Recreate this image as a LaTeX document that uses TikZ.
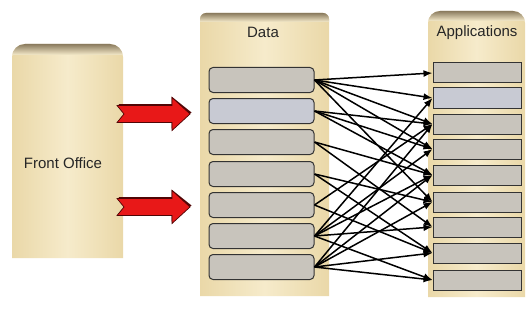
\documentclass[tikz,border=0pt]{standalone}
\usepackage{fontspec}
\setmainfont{Liberation Sans}
\usetikzlibrary{arrows.meta}

\definecolor{panelFill}{HTML}{F6EBCB}
\definecolor{panelEdge}{HTML}{EAD8A8}
\definecolor{bevelDark}{HTML}{8A7B5E}
\definecolor{boxGray}{HTML}{C8C4BC}
\definecolor{boxBlue}{HTML}{C8CAD3}
\definecolor{boxLine}{HTML}{333333}
\definecolor{arrowRed}{HTML}{E81818}
\definecolor{arrowEdge}{HTML}{500505}

\tikzset{
  panelbody/.style={left color=panelEdge, right color=panelEdge, middle color=panelFill},
  databox/.style={draw=boxLine, fill=boxGray, line width=1pt, rounded corners=4pt,
    minimum width=105pt, minimum height=25pt, inner sep=0pt},
  appbox/.style={draw=boxLine, fill=boxGray, line width=1pt,
    minimum width=88pt, minimum height=20pt, inner sep=0pt},
  title/.style={font=\fontsize{15}{17}\selectfont, text=black!85, inner sep=0pt},
  conn/.style={draw=black, line width=1.5pt, -{Latex[length=9pt,width=7pt]}},
  redarrow/.pic={
    % dark drop shadow, then the red block arrow with a notched tail
    \fill[arrowEdge] (1.5,-10) -- (54.5,-10) -- (54.5,-17.5) -- (74.5,-1.5) -- (54.5,14.5)
      -- (54.5,7) -- (1.5,7) -- (8.5,-1.5) -- cycle;
    \draw[fill=arrowRed, draw=arrowEdge, line width=0.7pt]
      (0,-8.5) -- (55,-8.5) -- (55,-16.5) -- (73,0) -- (55,16.5) -- (55,8.5)
      -- (0,8.5) -- (7,0) -- cycle;
  }
}

\begin{document}
\begin{tikzpicture}[x=1pt,y=-1pt]
\useasboundingbox (0,0) rectangle (526,326);
\fill[white] (0,0) rectangle (526,326);

% ---- Front Office panel ----
\begin{scope}
  \clip (12,258) {[rounded corners=13pt] -- (12,44) -- (123,44)} -- (123,258) -- cycle;
  \shade[panelbody] (12,44) rectangle (123,258);
  \shade[top color=bevelDark, bottom color=panelFill] (12,44) rectangle (123,55);
\end{scope}
\node[title] (fo) at (63,163) {Front Office};

% ---- Data panel ----
\begin{scope}
  \clip (200,296) {[rounded corners=6pt] -- (200,13) -- (329,13)} -- (329,296) -- cycle;
  \shade[panelbody] (200,13) rectangle (329,296);
  \shade[top color=bevelDark, bottom color=panelFill] (200,13) rectangle (329,22);
\end{scope}
\node[title] (datat) at (263,32) {Data};

% ---- Applications panel ----
\begin{scope}
  \clip (428,297) {[rounded corners=12pt] -- (428,11) -- (525,11)} -- (525,297) -- cycle;
  \shade[panelbody] (428,11) rectangle (525,297);
  \shade[top color=bevelDark, bottom color=panelFill] (428,11) rectangle (525,21);
\end{scope}
\node[title] (appt) at (477,33) {Applications};

% ---- red block arrows: Front Office -> Data ----
\coordinate (fa1) at (117,114);
\coordinate (fa2) at (117,207);
\pic at (fa1) {redarrow};
\pic at (fa2) {redarrow};

% ---- data stores ----
\node[databox] (d1) at (261.5,80) {};
\node[databox, fill=boxBlue] (d2) at (261.5,111) {};
\node[databox] (d3) at (261.5,142) {};
\node[databox] (d4) at (261.5,174) {};
\node[databox] (d5) at (261.5,205) {};
\node[databox] (d6) at (261.5,236) {};
\node[databox] (d7) at (261.5,267) {};

% ---- applications ----
\node[appbox] (a1) at (477,73) {};
\node[appbox, fill=boxBlue] (a2) at (477,98) {};
\node[appbox] (a3) at (477,124) {};
\node[appbox] (a4) at (477,149) {};
\node[appbox] (a5) at (477,175) {};
\node[appbox] (a6) at (477,202) {};
\node[appbox] (a7) at (477,227) {};
\node[appbox] (a8) at (477,253) {};
\node[appbox] (a9) at (477,280) {};

% ---- data feeds into applications ----
\foreach \s/\t in {d1/a1, d1/a2, d1/a3, d1/a4, d1/a6,
                   d2/a3, d2/a4, d2/a5,
                   d3/a5, d3/a7,
                   d4/a6, d4/a8,
                   d5/a3, d5/a8,
                   d6/a2, d6/a4, d6/a5, d6/a7, d6/a9,
                   d7/a3, d7/a5, d7/a6, d7/a8, d7/a9}
  \draw[conn] (\s.east) -- (\t.west);
\end{tikzpicture}
\end{document}
